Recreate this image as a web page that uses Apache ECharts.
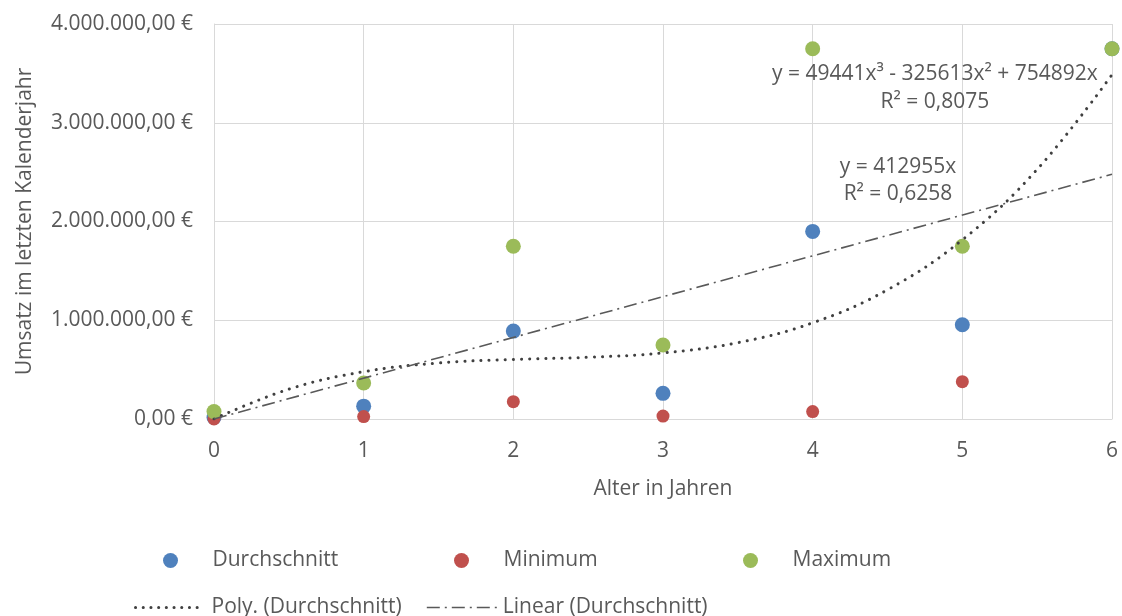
<!DOCTYPE html>
<html><head><meta charset="utf-8">
<script src="https://cdn.jsdelivr.net/npm/echarts@6/dist/echarts.min.js"></script>
<style>html,body{margin:0;padding:0;background:#fff}#c{width:1122px;height:616px}</style>
</head><body><div id="c"></div>
<script>
// ---- data ----
const ages = [0, 1, 2, 3, 4, 5, 6];
const durchschnitt = [15000, 130000, 890000, 260000, 1900000, 955000, 3750000];
const minimum      = [0, 25000, 175000, 30000, 75000, 378000, 3750000];
const maximum      = [75000, 365000, 1750000, 750000, 3750000, 1750000, 3750000];
const trendX       = [0, 0.5, 1, 1.5, 2, 2.5, 3, 3.5, 4, 4.5, 5, 5.5, 6];
const polyTrend    = [0, 302000, 479000, 567000, 603000, 625000, 669000, 773000, 974000, 1309000, 1814000, 2528000, 3487000];
const linearX      = [0, 6];
const linearTrend  = [0, 2478000];
const xTicks = [0, 1, 2, 3, 4, 5, 6];
const yTicks = [0, 1000000, 2000000, 3000000, 4000000];
const seriesNames = ['Durchschnitt', 'Minimum', 'Maximum', 'Poly. (Durchschnitt)', 'Linear (Durchschnitt)'];
const polyLabel = ['y = 49441x³ - 325613x² + 754892x', 'R² = 0,8075'];
const linearLabel = ['y = 412955x', 'R² = 0,6258'];

const FONT = '"Open Sans", sans-serif';
const TXT = '#595959';
const GRID = '#d9d9d9';
function zip(a, b) { return a.map((v, i) => [v, b[i]]); }
function fmtEuro(v) {
  const s = Math.round(v).toString().replace(/\B(?=(\d{3})+(?!\d))/g, '.');
  return s + ',00 €';
}
const txt = { color: TXT, fontFamily: FONT, fontSize: 21 };
const hiddenSym = { color: 'rgba(0,0,0,0)', borderColor: 'rgba(0,0,0,0)', borderWidth: 0, opacity: 0 };
const DASHDOT = [13, 5, 2, 5];

const chart = echarts.init(document.getElementById('c'), null, { renderer: 'canvas' });
chart.setOption({
  animation: false,
  backgroundColor: '#fff',
  textStyle: { fontFamily: FONT },
  grid: { left: 214, right: 10, top: 24, bottom: 197, containLabel: false },
  xAxis: {
    type: 'value', min: xTicks[0], max: xTicks[xTicks.length - 1], interval: xTicks[1] - xTicks[0],
    name: 'Alter in Jahren', nameLocation: 'middle', nameGap: 60,
    nameTextStyle: txt,
    axisLine: { show: true, lineStyle: { color: GRID, width: 1 } },
    axisTick: { show: false },
    axisLabel: Object.assign({ margin: 22 }, txt),
    splitLine: { show: true, lineStyle: { color: GRID, width: 1 } }
  },
  yAxis: {
    type: 'value', min: yTicks[0], max: yTicks[yTicks.length - 1], interval: yTicks[1] - yTicks[0],
    name: 'Umsatz im letzten Kalenderjahr', nameLocation: 'middle', nameGap: 178,
    nameTextStyle: txt,
    axisLine: { show: true, lineStyle: { color: GRID, width: 1 } },
    axisTick: { show: false },
    axisLabel: Object.assign({ margin: 21, formatter: fmtEuro }, txt),
    splitLine: { show: true, lineStyle: { color: GRID, width: 1 } }
  },
  legend: [
    { data: [seriesNames[0]], left: 158, top: 545, icon: 'circle', itemWidth: 74, itemHeight: 15, selectedMode: false, textStyle: txt },
    { data: [seriesNames[1]], left: 449, top: 545, icon: 'circle', itemWidth: 74, itemHeight: 15, selectedMode: false, textStyle: txt },
    { data: [seriesNames[2]], left: 738, top: 545, icon: 'circle', itemWidth: 74, itemHeight: 15, selectedMode: false, textStyle: txt },
    { data: [seriesNames[3]], left: 129, top: 592, itemWidth: 69, itemHeight: 14, selectedMode: false,
      itemStyle: hiddenSym,
      lineStyle: { color: '#404040', width: 3, type: [0.1, 7.6], cap: 'round' },
      textStyle: Object.assign({ padding: [0, 0, 0, 2] }, txt) },
    { data: [seriesNames[4]], left: 421, top: 592, itemWidth: 71, itemHeight: 14, selectedMode: false,
      itemStyle: hiddenSym,
      lineStyle: { color: '#595959', width: 1.6, type: DASHDOT },
      textStyle: Object.assign({ padding: [0, 0, 0, 0] }, txt) }
  ],
  series: [
    { name: seriesNames[0], type: 'scatter', data: zip(ages, durchschnitt), symbol: 'circle', symbolSize: 15,
      itemStyle: { color: '#4F81BD', opacity: 1 } },
    { name: seriesNames[1], type: 'scatter', data: zip(ages, minimum), symbol: 'circle', symbolSize: 13,
      itemStyle: { color: '#C0504D', opacity: 1 } },
    { name: seriesNames[2], type: 'scatter', data: zip(ages, maximum), symbol: 'circle', symbolSize: 15,
      itemStyle: { color: '#9BBB59', opacity: 1 } },
    { name: seriesNames[3], type: 'line', data: zip(trendX, polyTrend), smooth: 0.4, symbol: 'none', showSymbol: false,
      itemStyle: { color: '#404040' },
      lineStyle: { color: '#404040', width: 3, type: [0.1, 8], cap: 'round' },
      markPoint: { symbol: 'circle', symbolSize: 0, silent: true,
        data: [{ coord: [4.817, 3352000], label: Object.assign({ show: true, position: 'inside', align: 'center', verticalAlign: 'middle',
          lineHeight: 28, formatter: polyLabel.join('\n') }, txt) }] } },
    { name: seriesNames[4], type: 'line', data: zip(linearX, linearTrend), symbol: 'none', showSymbol: false,
      itemStyle: { color: '#595959' },
      lineStyle: { color: '#595959', width: 1.6, type: DASHDOT },
      markPoint: { symbol: 'circle', symbolSize: 0, silent: true,
        data: [{ coord: [4.57, 2415000], label: Object.assign({ show: true, position: 'inside', align: 'center', verticalAlign: 'middle',
          lineHeight: 27, formatter: linearLabel.join('\n') }, txt) }] } }
  ]
});
</script>
</body></html>
